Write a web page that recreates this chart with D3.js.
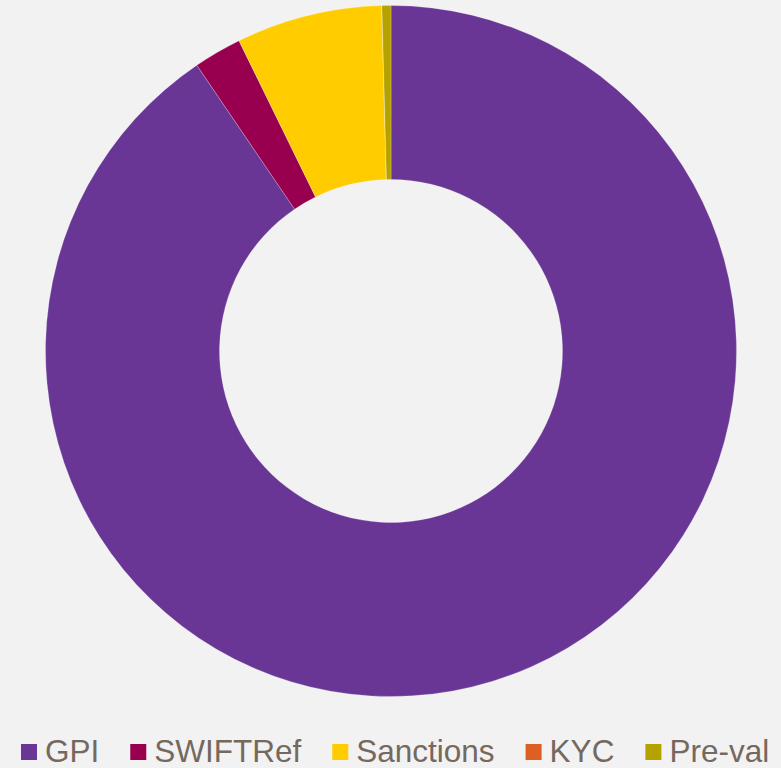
<!DOCTYPE html>
<html>
<head>
<meta charset="utf-8">
<script src="https://cdn.jsdelivr.net/npm/d3@7"></script>
<style>
  html, body { margin: 0; padding: 0; background: #f2f2f2; }
  #wrapper { width: 781px; height: 768px; }
</style>
</head>
<body>
<div id="wrapper"></div>
<script>
const categories = ["GPI", "SWIFTRef", "Sanctions", "KYC", "Pre-val"];
const values = [90.5, 2.25, 6.83, 0, 0.42];
const colors = ["#693695", "#98004f", "#ffcc00", "#dc5f24", "#b5a200"];

const dataset = categories.map((c, i) => ({ name: c, value: values[i] }));

let dimensions = {
    width: 781,
    height: 768,
    cx: 391,
    cy: 351,
    outerRadius: 345.5,
    innerRadius: 171.5
};

const wrapper = d3.select('#wrapper')
    .append('svg')
    .attr('width', dimensions.width)
    .attr('height', dimensions.height);

wrapper.append('rect')
    .attr('width', dimensions.width)
    .attr('height', dimensions.height)
    .attr('fill', '#f2f2f2');

const bounds = wrapper.append('g')
    .attr('transform', `translate(${dimensions.cx}, ${dimensions.cy})`);

const colorScale = d3.scaleOrdinal()
    .domain(categories)
    .range(colors);

const pieGenerator = d3.pie()
    .value(d => d.value)
    .sort(null);

const arcGenerator = d3.arc()
    .innerRadius(dimensions.innerRadius)
    .outerRadius(dimensions.outerRadius);

bounds.selectAll('path')
    .data(pieGenerator(dataset))
    .join('path')
    .attr('d', arcGenerator)
    .attr('fill', d => colorScale(d.data.name))
    .attr('stroke', '#ffffff')
    .attr('stroke-opacity', 0.4)
    .attr('stroke-width', 0.6);

// legend
const legend = wrapper.append('g');
const fontSize = 31.5;
const gap = 31;
const items = legend.selectAll('g')
    .data(categories)
    .join('g');

items.append('rect')
    .attr('width', 16)
    .attr('height', 16)
    .attr('y', -16)
    .attr('fill', d => colorScale(d));

items.append('text')
    .attr('x', 24)
    .attr('y', 2)
    .attr('font-family', 'Liberation Sans, Arial, sans-serif')
    .attr('font-size', fontSize)
    .attr('fill', '#75695e')
    .text(d => d);

let x = 0;
items.each(function() {
    const w = d3.select(this).select('text').node().getComputedTextLength();
    d3.select(this).attr('transform', `translate(${x}, 0)`);
    x += 24 + w + gap;
});
legend.attr('transform', `translate(21, 760)`);
</script>
</body>
</html>
